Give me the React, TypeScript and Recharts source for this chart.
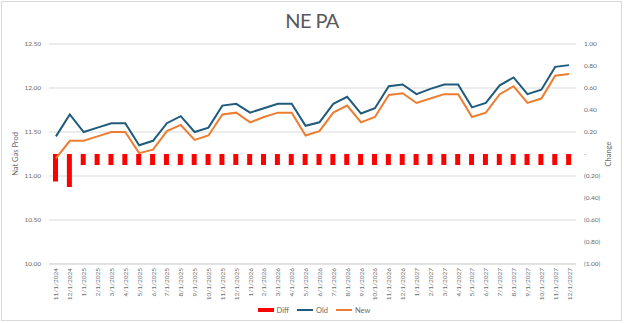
import React from 'react';
import {
  ComposedChart, Bar, Line, XAxis, YAxis, CartesianGrid, Legend,
} from 'recharts';

const months = [
  '11/1/2024', '12/1/2024',
  '1/1/2025', '2/1/2025', '3/1/2025', '4/1/2025', '5/1/2025', '6/1/2025',
  '7/1/2025', '8/1/2025', '9/1/2025', '10/1/2025', '11/1/2025', '12/1/2025',
  '1/1/2026', '2/1/2026', '3/1/2026', '4/1/2026', '5/1/2026', '6/1/2026',
  '7/1/2026', '8/1/2026', '9/1/2026', '10/1/2026', '11/1/2026', '12/1/2026',
  '1/1/2027', '2/1/2027', '3/1/2027', '4/1/2027', '5/1/2027', '6/1/2027',
  '7/1/2027', '8/1/2027', '9/1/2027', '10/1/2027', '11/1/2027', '12/1/2027',
];

const oldProd = [
  11.45, 11.70, 11.50, 11.55, 11.60, 11.60, 11.35, 11.40, 11.60, 11.68,
  11.50, 11.55, 11.80, 11.82, 11.72, 11.77, 11.82, 11.82, 11.57, 11.61,
  11.82, 11.90, 11.71, 11.77, 12.02, 12.04, 11.93, 11.99, 12.04, 12.04,
  11.78, 11.83, 12.03, 12.12, 11.93, 11.98, 12.24, 12.26,
];

const newProd = [
  11.20, 11.40, 11.40, 11.45, 11.50, 11.50, 11.26, 11.30, 11.51, 11.58,
  11.41, 11.46, 11.70, 11.72, 11.61, 11.67, 11.72, 11.72, 11.46, 11.51,
  11.72, 11.80, 11.61, 11.67, 11.92, 11.94, 11.83, 11.88, 11.93, 11.93,
  11.67, 11.72, 11.93, 12.02, 11.83, 11.88, 12.14, 12.16,
];

const diff = [
  -0.25, -0.30, -0.10, -0.10, -0.10, -0.10, -0.10, -0.10, -0.10, -0.10,
  -0.10, -0.10, -0.10, -0.10, -0.10, -0.10, -0.10, -0.10, -0.10, -0.10,
  -0.10, -0.10, -0.10, -0.10, -0.10, -0.10, -0.10, -0.10, -0.10, -0.10,
  -0.10, -0.10, -0.10, -0.10, -0.10, -0.10, -0.10, -0.10,
];

const leftTicks = [10, 10.5, 11, 11.5, 12, 12.5];
const rightTicks = [-1, -0.8, -0.6, -0.4, -0.2, 0, 0.2, 0.4, 0.6, 0.8, 1];

const legendItems = [
  { name: 'Diff', color: '#FF0000', kind: 'rect' },
  { name: 'Old', color: '#1F5B7B', kind: 'line' },
  { name: 'New', color: '#ED7D31', kind: 'line' },
];

const FONT = 'Lato, "Open Sans", sans-serif';
const GREY = '#6b6b6b';

const data = months.map((m, i) => ({
  month: m,
  Old: oldProd[i],
  New: newProd[i],
  Diff: diff[i],
}));

const fmtChange = (v: number) => {
  if (Math.abs(v) < 1e-9) return '-';
  const s = Math.abs(v).toFixed(2);
  return v < 0 ? `(${s})` : s;
};

const MonthTick = (props: any) => {
  const { x, y, payload } = props;
  return (
    <text
      x={x}
      y={y}
      transform={`rotate(-90, ${x}, ${y})`}
      textAnchor="end"
      dominantBaseline="central"
      fontSize={6.5}
      fontFamily={FONT}
      fill={GREY}
    >
      {payload.value}
    </text>
  );
};

const LegendBox = () => (
  <div style={{
    display: 'flex', justifyContent: 'center', alignItems: 'center', height: 12,
    fontFamily: FONT, fontSize: 7.5, color: GREY, paddingLeft: 12,
  }}>
    {legendItems.map(item => (
      <div key={item.name} style={{ display: 'flex', alignItems: 'center', marginRight: 8 }}>
        <svg width={16} height={6} style={{ marginRight: 3 }}>
          {item.kind === 'rect'
            ? <rect x={0} y={1} width={16} height={4} fill={item.color} />
            : <line x1={0} y1={3} x2={16} y2={3} stroke={item.color} strokeWidth={2} />}
        </svg>
        <span>{item.name}</span>
      </div>
    ))}
  </div>
);

export default function App() {
  return (
    <div style={{ position: 'absolute', left: 0, top: 0, width: 624, height: 323, background: '#fff' }}>
      <div style={{
        position: 'absolute', left: 0, top: 8, width: 624, textAlign: 'center',
        fontFamily: FONT, fontWeight: 400, fontSize: 20, letterSpacing: -0.6, color: '#595959',
      }}>
        NE PA
      </div>
      <ComposedChart
        width={624}
        height={323}
        data={data}
        margin={{ top: 44, right: 0, bottom: 0, left: 0 }}
        barSize={5}
      >
        <CartesianGrid vertical={false} stroke="#d9d9d9" yAxisId="left" />
        <XAxis
          dataKey="month"
          interval={0}
          height={40}
          tick={<MonthTick />}
          tickLine={false}
          tickSize={2}
          tickMargin={2}
          axisLine={{ stroke: '#d9d9d9' }}
        />
        <YAxis
          yAxisId="left"
          width={49}
          domain={[10, 12.5]}
          ticks={leftTicks}
          tickFormatter={(v: number) => v.toFixed(2)}
          axisLine={false}
          tickLine={false}
          tick={{ fontSize: 6.5, fill: GREY, fontFamily: FONT }}
          label={{
            value: 'Nat Gas Prod', angle: -90, position: 'insideLeft', offset: 15,
            style: { textAnchor: 'middle', fontSize: 7.5, fill: GREY, fontFamily: FONT },
          }}
        />
        <YAxis
          yAxisId="right"
          orientation="right"
          width={48}
          domain={[-1, 1]}
          ticks={rightTicks}
          tickFormatter={fmtChange}
          axisLine={false}
          tickLine={false}
          tick={{ fontSize: 6.5, fill: GREY, fontFamily: FONT }}
          label={{
            value: 'Change', angle: -90, position: 'insideRight', offset: 16,
            style: { textAnchor: 'middle', fontSize: 7.5, fill: GREY, fontFamily: FONT },
          }}
        />
        <Bar yAxisId="right" dataKey="Diff" fill="#FF0000" isAnimationActive={false} />
        <Line yAxisId="left" dataKey="Old" stroke="#1F5B7B" strokeWidth={2} dot={false} type="linear" isAnimationActive={false} />
        <Line yAxisId="left" dataKey="New" stroke="#ED7D31" strokeWidth={2} dot={false} type="linear" isAnimationActive={false} />
        <Legend verticalAlign="bottom" height={19} content={<LegendBox />} />
      </ComposedChart>
      <div style={{
        position: 'absolute', left: 1, top: 1, width: 621, height: 320,
        boxShadow: 'inset 0 0 0 1px #d9d9d9', pointerEvents: 'none',
      }} />
    </div>
  );
}
